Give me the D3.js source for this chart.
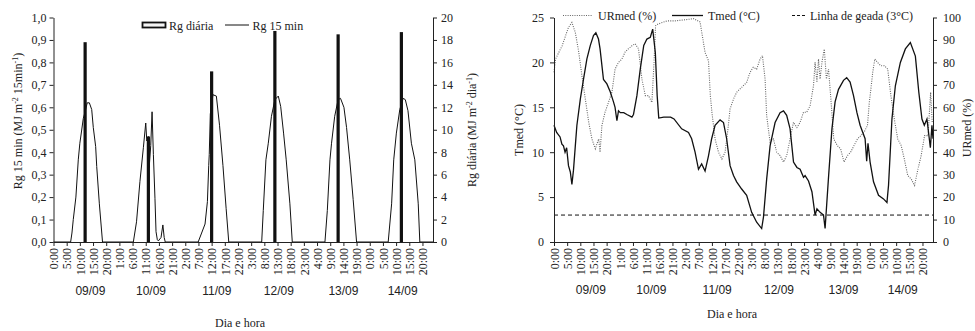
<!DOCTYPE html>
<html><head><meta charset="utf-8">
<script src="https://cdn.jsdelivr.net/npm/d3@7"></script>
<style>
body{margin:0;background:#fff;}
svg{display:block;}
text{font-family:"Liberation Serif","Times New Roman",serif;fill:#222;}
text.day{font-family:"Liberation Sans",Arial,sans-serif;}
</style></head>
<body><svg id="c" width="975" height="331"></svg>
<script>
// ---------- DATA ----------
const hourTicks = d3.range(0, 141, 5);
const hourTickLabels = hourTicks.map(h => (h % 24) + ":00");
const days = ["09/09", "10/09", "11/09", "12/09", "13/09", "14/09"];
const dayLabelHour = [14, 37, 62, 85.5, 110, 132.5];

// Left chart: daily global radiation (bars, at noon) and 15-min radiation
const rgDailyHour = [12, 36, 60, 84, 108, 132];
const rgDailyValue = [17.8, 9.4, 15.2, 18.8, 18.5, 18.7];
const rg15Hour = [0, 6.5, 7, 7.5, 8.5, 9.4, 10, 10.6, 11.3, 12, 12.8, 13.6, 14.5, 15.1, 16, 16.4, 17.4, 18.6,
  30.3, 31.5, 32.8, 34.1, 35, 35.4, 36, 36.3, 36.9, 37.4, 37.9, 38.5, 38.9, 39.4, 39.8, 40.8, 41.5, 42, 42.4,
  54.9, 56.2, 57.5, 58.4, 58.9, 59.1, 59.5, 60.5, 61.8, 63, 64.3, 65.5, 66.5,
  79, 79.6, 80.6, 81.5, 82.7, 84, 85.3, 86.2, 87.3, 88.3, 89.7, 90.6,
  103, 103.9, 104.9, 105.5, 106.7, 108, 108.9, 110.2, 111.2, 112.4, 113.7, 115,
  127, 128.3, 129.1, 130.1, 131.4, 132.7, 133.5, 134.5, 135.8, 137.1, 138.4, 139, 144];
const rg15Value = [0, 0, 0.04, 0.1, 0.2, 0.366, 0.44, 0.49, 0.55, 0.58, 0.62, 0.62, 0.59, 0.51, 0.425, 0.336, 0.17, 0,
  0, 0.09, 0.27, 0.42, 0.53, 0.45, 0.47, 0.33, 0.43, 0.58, 0.39, 0.195, 0.046, 0.01, 0.005, 0.02, 0.076, 0.02, 0,
  0, 0.04, 0.08, 0.18, 0.34, 0.39, 0.57, 0.656, 0.65, 0.52, 0.34, 0.15, 0,
  0, 0.14, 0.366, 0.44, 0.56, 0.634, 0.65, 0.604, 0.485, 0.366, 0.17, 0,
  0, 0.14, 0.366, 0.44, 0.56, 0.634, 0.64, 0.6, 0.51, 0.366, 0.19, 0,
  0, 0.17, 0.366, 0.485, 0.59, 0.64, 0.634, 0.585, 0.44, 0.366, 0.17, 0, 0];
const leftTicks = [0, 0.1, 0.2, 0.3, 0.4, 0.5, 0.6, 0.7, 0.8, 0.9, 1.0];
const leftTickLabels = ["0,0", "0,1", "0,2", "0,3", "0,4", "0,5", "0,6", "0,7", "0,8", "0,9", "1,0"];
const rightTicksL = [0, 2, 4, 6, 8, 10, 12, 14, 16, 18, 20];

// Right chart: mean temperature, mean relative humidity, frost line
const tHour = [0, 1, 2.3, 3, 3.6, 4.2, 4.8, 5.5, 6.2, 6.8, 7.4, 8.1, 8.7, 10, 11.2, 12.5, 13.8, 15, 15.9, 16.9, 17.5, 18.8, 20.1, 21.4, 22.6, 23.2, 23.9, 24.5, 25.2, 26.5, 27.7, 29.6, 30.2, 31.5, 32.8, 34.1, 35.3, 36.6, 37.5, 38.5, 39.2, 39.8, 41.7, 44.3, 45.6, 48.5, 51.1, 52.3, 53.6, 54.9, 56.1, 57.4, 58.7, 59.9, 61.2, 63.1, 64.4, 65.6, 66.9, 68.2, 69.4, 71.3, 73.2, 75.1, 77, 78.9, 79.6, 80.8, 82.1, 84, 85.9, 87.2, 88.4, 89.7, 91, 92.3, 93.5, 94.8, 95.4, 96.7, 98, 99.2, 99.9, 101.1, 102.4, 103, 104.3, 105.6, 106.8, 108.1, 110, 111.2, 112.5, 113.8, 115.1, 116.3, 118.2, 118.8, 119.3, 120.1, 121.4, 123.3, 125.2, 126.5, 127.1, 128.4, 129.7, 131.6, 133.5, 135.4, 137.3, 138.6, 139.8, 140.7, 141.7, 143, 143.6, 144];
const tValue = [13.0, 12.2, 11.7, 10.9, 10.7, 10.0, 10.5, 8.5, 7.8, 6.4, 8.0, 10.7, 13.0, 15.9, 18.1, 20.4, 21.9, 23.0, 23.3, 22.6, 21.5, 18.1, 17.6, 16.7, 15.6, 15.0, 13.5, 14.6, 14.4, 14.4, 14.2, 13.9, 14.2, 16.3, 19.3, 21.9, 22.6, 22.8, 23.7, 21.1, 16.3, 13.8, 13.9, 13.9, 13.7, 12.6, 12.2, 11.5, 10.0, 8.1, 8.7, 7.9, 9.6, 11.5, 13.0, 13.6, 13.3, 11.5, 8.5, 7.4, 6.7, 5.9, 5.2, 3.3, 2.2, 1.5, 2.8, 7.0, 10.7, 13.3, 14.4, 14.6, 14.1, 12.6, 8.9, 8.3, 8.1, 7.2, 7.4, 6.8, 5.6, 3.0, 3.7, 3.3, 3.0, 1.5, 7.2, 12.6, 15.6, 17.0, 18.0, 18.3, 17.8, 16.3, 14.4, 13.0, 11.5, 9.0, 11.0, 8.9, 6.7, 5.2, 4.8, 4.4, 6.3, 13.7, 17.4, 20.0, 21.5, 22.2, 20.7, 16.7, 13.7, 13.0, 13.7, 10.5, 13.0, 11.5];
const urHour = [0, 0.6, 1.9, 3.1, 4.4, 5.5, 6.8, 8.1, 9.4, 10.6, 11.9, 13.2, 14.4, 15.7, 16.4, 17, 17.5, 18.2, 19.4, 20.7, 22, 23.2, 24.5, 25.8, 27, 28.3, 29.6, 30.8, 32.1, 33.4, 34.7, 35.9, 37.2, 38, 38.6, 39.4, 40.5, 43, 46, 50, 53, 55.5, 57.4, 58.7, 59.4, 60, 61.2, 62.5, 63.8, 65, 66.1, 66.9, 68.2, 69.4, 71.3, 73.2, 74.5, 75.7, 77, 78.3, 79.2, 80.2, 80.8, 82.1, 83.4, 84.6, 85.9, 87.2, 88.4, 89.7, 91, 92.3, 93.5, 94.8, 96, 97.3, 98.6, 99.2, 99.9, 100.5, 101.1, 101.8, 102.7, 103.5, 104.3, 105.2, 106.3, 107.6, 108.9, 110.2, 111.5, 112.7, 114, 115.3, 116.6, 117.8, 119.1, 119.8, 120.4, 121.1, 121.9, 122.9, 124.2, 125.5, 126.8, 128, 129.3, 130.6, 131.9, 133.1, 134.4, 135.7, 137, 138.3, 139.5, 140.8, 142.1, 143.1, 143.7];
const urValue = [75.6, 81.5, 84.6, 87.4, 91.9, 95.6, 97.8, 93.3, 84.6, 74.1, 63.7, 53.3, 45.9, 41.5, 44, 45.9, 40.0, 51.9, 57.8, 62.2, 66.7, 77.0, 80, 81.5, 84.6, 86.1, 87.4, 88.3, 86.1, 72.6, 65.2, 65.2, 62.2, 80, 96.3, 97, 97.5, 98.5, 98.5, 99, 99.5, 98, 84.4, 80.7, 65.2, 57.8, 45.9, 40, 37, 40, 50.4, 59.3, 63.7, 66.7, 68.9, 71.1, 75.6, 77.8, 77, 81.5, 83, 72.6, 56.3, 44.4, 45.9, 40, 38.5, 35.6, 38.5, 45.9, 53.3, 51, 53.3, 57.8, 57.8, 60.7, 69.6, 80, 71.1, 81.5, 72.6, 80, 85.9, 72.6, 77, 63.7, 45.9, 43, 41.5, 35.6, 38.5, 40, 43, 45.9, 47.4, 48.9, 51.9, 62.2, 68.1, 75.6, 81.5, 80, 78.5, 78.5, 77, 65.2, 54.8, 45.9, 43, 37, 29.6, 28.1, 25.2, 32.6, 38.5, 47.4, 47.4, 66.7, 53.3];
const frostT = 3;
const tTicks = [0, 5, 10, 15, 20, 25];
const urTicks = [0, 10, 20, 30, 40, 50, 60, 70, 80, 90, 100];

// ---------- DRAW ----------
const svg = d3.select("#c");
const TOP = 17.5, BOT = 242;

function xAxisTicks(g, x) {
  const ax = g.append("g").attr("transform", `translate(0,${BOT})`)
    .call(d3.axisBottom(x).tickValues(hourTicks).tickSize(4).tickSizeOuter(0).tickFormat((d, i) => hourTickLabels[i]));
  ax.select(".domain").attr("stroke", "#222");
  ax.selectAll(".tick line").attr("stroke", "#222");
  ax.selectAll(".tick text").attr("font-size", 12)
    .attr("fill", "#222").attr("text-anchor", "end").attr("dy", "0.35em")
    .attr("transform", "translate(0,6) rotate(-90)").attr("x", 0).attr("y", 0);
}
function styleAxis(ax) {
  ax.select(".domain").attr("stroke", "#222");
  ax.selectAll(".tick line").attr("stroke", "#222");
  ax.selectAll(".tick text").attr("font-size", 12).attr("fill", "#222");
}
function dayLabels(g, x, y) {
  g.selectAll("text.day").data(days).join("text").attr("class", "day")
    .attr("x", (d, i) => x(dayLabelHour[i])).attr("y", y).attr("text-anchor", "middle")
    .attr("font-size", 12).text(d => d);
}
function vtitle(g, cx, cy, parts) {
  const t = g.append("text").attr("transform", `translate(${cx},${cy}) rotate(-90)`)
    .attr("text-anchor", "middle").attr("font-size", 12);
  parts.forEach(p => {
    const ts = t.append("tspan").text(p[0]);
    if (p[1]) ts.attr("font-size", 8).attr("baseline-shift", "super");
  });
}

// ----- Left chart -----
{
  const g = svg.append("g");
  const x = d3.scaleLinear().domain([0, 144]).range([53.5, 433]);
  const yL = d3.scaleLinear().domain([0, 1]).range([BOT, TOP]);
  const yR = d3.scaleLinear().domain([0, 20]).range([BOT, TOP]);

  const line = d3.line().x(d => x(d[0])).y(d => yL(d[1]));
  g.append("path").datum(rg15Hour.map((h, i) => [h, rg15Value[i]]))
    .attr("d", line).attr("fill", "none").attr("stroke", "#111").attr("stroke-width", 1);
  g.selectAll("rect.bar").data(rgDailyValue).join("rect").attr("class", "bar")
    .attr("x", (d, i) => x(rgDailyHour[i]) - 1.6).attr("width", 3.2)
    .attr("y", d => yR(d)).attr("height", d => BOT - yR(d)).attr("fill", "#111");

  styleAxis(g.append("g").attr("transform", "translate(53.5,0)")
    .call(d3.axisLeft(yL).tickValues(leftTicks).tickSize(4).tickSizeOuter(0).tickPadding(3).tickFormat((d, i) => leftTickLabels[i])));
  styleAxis(g.append("g").attr("transform", "translate(433,0)")
    .call(d3.axisRight(yR).tickValues(rightTicksL).tickSize(4).tickSizeOuter(0).tickPadding(4)));
  xAxisTicks(g, x);
  dayLabels(g, x, 295);
  g.append("text").attr("x", 240).attr("y", 327).attr("text-anchor", "middle").attr("font-size", 12).text("Dia e hora");
  vtitle(g, 22, 121, [["Rg 15 min  (MJ m"], ["-2", 1], [" 15min"], ["-1", 1], [")"]]);
  vtitle(g, 476, 130, [["Rg diária  (MJ m"], ["-2", 1], [" dia"], ["-1", 1], [")"]]);

  g.append("rect").attr("x", 142.5).attr("y", 22.5).attr("width", 23).attr("height", 5)
    .attr("fill", "#f4f4f4").attr("stroke", "#111").attr("stroke-width", 1.8);
  g.append("text").attr("x", 169).attr("y", 29.5).attr("font-size", 12).text("Rg diária");
  g.append("line").attr("x1", 225).attr("x2", 249).attr("y1", 25).attr("y2", 25).attr("stroke", "#111");
  g.append("text").attr("x", 252.5).attr("y", 29.5).attr("font-size", 12).text("Rg 15 min");
}

// ----- Right chart -----
{
  const g = svg.append("g");
  const x = d3.scaleLinear().domain([0, 144]).range([554, 933]);
  const yT = d3.scaleLinear().domain([0, 25]).range([BOT, TOP]);
  const yU = d3.scaleLinear().domain([0, 100]).range([BOT, TOP]);

  g.append("line").attr("x1", x(0)).attr("x2", x(144)).attr("y1", yT(frostT)).attr("y2", yT(frostT))
    .attr("stroke", "#111").attr("stroke-dasharray", "4,3").attr("stroke-width", 1);
  g.append("path").datum(urHour.map((h, i) => [h, urValue[i]]))
    .attr("d", d3.line().x(d => x(d[0])).y(d => yU(d[1])))
    .attr("fill", "none").attr("stroke", "#666").attr("stroke-width", 1.1).attr("stroke-dasharray", "1,1.3");
  g.append("path").datum(tHour.map((h, i) => [h, tValue[i]]))
    .attr("d", d3.line().x(d => x(d[0])).y(d => yT(d[1])))
    .attr("fill", "none").attr("stroke", "#111").attr("stroke-width", 1.3);

  styleAxis(g.append("g").attr("transform", "translate(554,0)")
    .call(d3.axisLeft(yT).tickValues(tTicks).tickSize(4).tickSizeOuter(0).tickPadding(6)));
  styleAxis(g.append("g").attr("transform", "translate(933,0)")
    .call(d3.axisRight(yU).tickValues(urTicks).tickSize(4).tickSizeOuter(0).tickPadding(6)));
  xAxisTicks(g, x);
  dayLabels(g, x, 294);
  g.append("text").attr("x", 732).attr("y", 318).attr("text-anchor", "middle").attr("font-size", 12).text("Dia e hora");
  vtitle(g, 523, 130, [["Tmed (°C)"]]);
  vtitle(g, 971, 128, [["URmed  (%)"]]);

  g.append("line").attr("x1", 563).attr("x2", 592).attr("y1", 15.5).attr("y2", 15.5)
    .attr("stroke", "#666").attr("stroke-dasharray", "1,1.3").attr("stroke-width", 1.1);
  g.append("text").attr("x", 598).attr("y", 20).attr("font-size", 12).text("URmed (%)");
  g.append("line").attr("x1", 672).attr("x2", 703).attr("y1", 15.5).attr("y2", 15.5)
    .attr("stroke", "#111").attr("stroke-width", 1.3);
  g.append("text").attr("x", 708).attr("y", 20).attr("font-size", 12).text("Tmed (°C)");
  g.append("line").attr("x1", 792).attr("x2", 806).attr("y1", 15.5).attr("y2", 15.5)
    .attr("stroke", "#111").attr("stroke-dasharray", "3,2");
  g.append("text").attr("x", 810).attr("y", 20).attr("font-size", 12).text("Linha de geada (3°C)");
}
</script></body></html>
